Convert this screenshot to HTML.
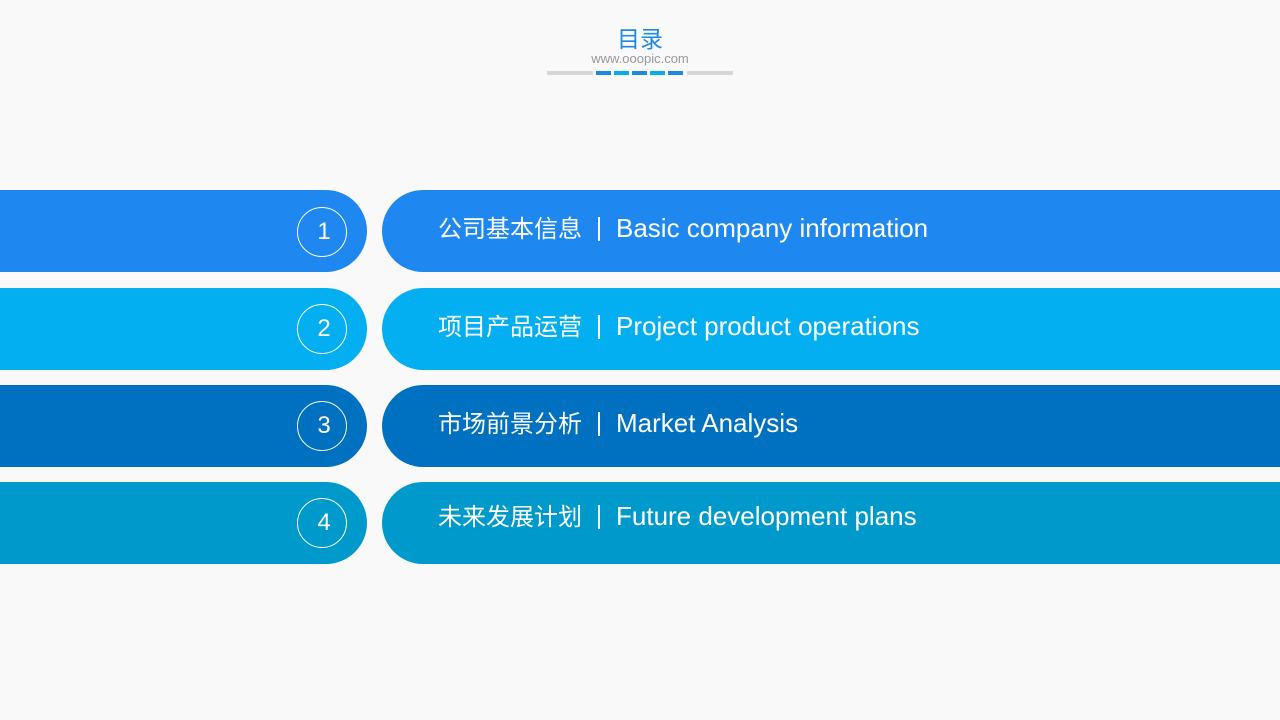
<!DOCTYPE html>
<html><head><meta charset="utf-8"><style>
body{margin:0;width:1280px;height:720px;background:#f9f9f9;position:relative;overflow:hidden;font-family:"Liberation Sans","Noto Sans CJK SC",sans-serif}
.a{position:absolute}
.l{left:0;width:367px;height:82px;border-radius:0 41px 41px 0}
.r{left:382px;width:898px;height:82px;border-radius:41px 0 0 41px}
.c{left:297px;width:48px;height:48px;border:1px solid #fff;border-radius:50%;color:#fff;font-size:24px;text-align:center;line-height:48px;text-indent:4px}
.t{left:438px;color:#fff;font-size:24px;line-height:30px;white-space:nowrap}
.t .s{display:inline-block;width:2px;height:24px;background:#fff;vertical-align:-4px;margin:0 16px 0 16px}
.t .e{font-size:26px}
</style></head><body>
<div class="a" style="left:0;width:1280px;top:25px;line-height:28px;text-align:center;color:#1e88e5;font-size:23px">目录</div>
<div class="a" style="left:0;width:1280px;top:51px;line-height:15px;text-align:center;color:#999;font-size:13px">www.ooopic.com</div>
<div class="a" style="left:547px;top:71px;width:46px;height:4px;background:#d6d6d6"></div>
<div class="a" style="left:596px;top:71px;width:15px;height:4px;background:#1e88e5"></div>
<div class="a" style="left:614px;top:71px;width:15px;height:4px;background:#03aeef"></div>
<div class="a" style="left:632px;top:71px;width:15px;height:4px;background:#1e88e5"></div>
<div class="a" style="left:650px;top:71px;width:15px;height:4px;background:#03aeef"></div>
<div class="a" style="left:668px;top:71px;width:15px;height:4px;background:#1e88e5"></div>
<div class="a" style="left:687px;top:71px;width:46px;height:4px;background:#d6d6d6"></div>

<div class="a l" style="top:190px;background:#1e88f0"></div><div class="a r" style="top:190px;background:#1e88f0"></div>
<div class="a c" style="top:207px">1</div><div class="a t" style="top:213px">公司基本信息<span class="s"></span><span class="e">Basic company information</span></div>

<div class="a l" style="top:288px;background:#03aff0"></div><div class="a r" style="top:288px;background:#03aff0"></div>
<div class="a c" style="top:304px">2</div><div class="a t" style="top:311px">项目产品运营<span class="s"></span><span class="e">Project product operations</span></div>

<div class="a l" style="top:385px;background:#0070c0"></div><div class="a r" style="top:385px;background:#0070c0"></div>
<div class="a c" style="top:401px">3</div><div class="a t" style="top:408px">市场前景分析<span class="s"></span><span class="e">Market Analysis</span></div>

<div class="a l" style="top:482px;background:#0099cc"></div><div class="a r" style="top:482px;background:#0099cc"></div>
<div class="a c" style="top:498px">4</div><div class="a t" style="top:501px">未来发展计划<span class="s"></span><span class="e">Future development plans</span></div>
</body></html>
